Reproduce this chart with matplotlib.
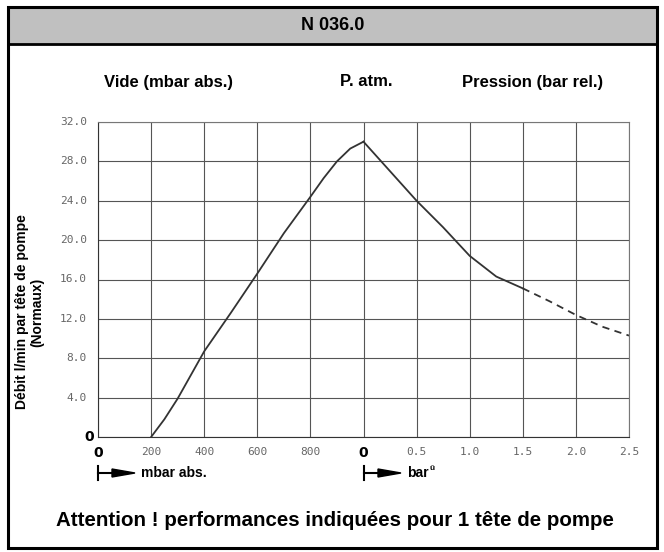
import matplotlib.pyplot as plt
from matplotlib.patches import Rectangle

# data
vac_mbar = [200, 250, 300, 350, 400, 500, 600, 700, 800, 850, 900, 950, 1000]
vac_flow = [0, 1.8, 3.9, 6.3, 8.7, 12.6, 16.6, 20.7, 24.4, 26.3, 28.0, 29.3, 30.0]
press_bar = [0, 0.25, 0.5, 0.75, 1.0, 1.25, 1.5]
press_flow = [30.0, 27.0, 24.0, 21.3, 18.4, 16.3, 15.1]
dash_bar = [1.5, 1.75, 2.0, 2.25, 2.5]
dash_flow = [15.1, 13.8, 12.4, 11.2, 10.3]
y_ticks = [0, 4, 8, 12, 16, 20, 24, 28, 32]
y_labels = ["0", "4.0", "8.0", "12.0", "16.0", "20.0", "24.0", "28.0", "32.0"]
x_labels = ["0", "200", "400", "600", "800", "0", "0.5", "1.0", "1.5", "2.0", "2.5"]

W, H = 664, 552
SANS = ["Liberation Sans", "DejaVu Sans"]


def px(x, y):
    return x / W, 1 - y / H


def bar_pos(b):
    # pressure side of the shared x axis starts at 1000 mbar
    return [1000 + v * 400 for v in b]


fig = plt.figure(figsize=(W / 100, H / 100), dpi=100)

# frame and title band
fig.patches.append(Rectangle(px(8, 44), 649 / W, 37 / H, transform=fig.transFigure,
                             facecolor="#c0c0c0", edgecolor="none", zorder=0))
fig.patches.append(Rectangle(px(8, 548), 649 / W, 541 / H, transform=fig.transFigure,
                             facecolor="none", edgecolor="black", lw=2.2, zorder=5))
fig.lines.append(plt.Line2D([8 / W, 657 / W], [1 - 44 / H] * 2, transform=fig.transFigure,
                            color="black", lw=2))

fig.text(*px(333, 25), "N 036.0", ha="center", va="center", fontsize=13,
         fontweight="bold", family=SANS)
fig.text(*px(168, 82), "Vide (mbar abs.)", ha="center", va="center", fontsize=12,
         fontweight="bold", family=SANS)
fig.text(*px(366, 82), "P. atm.", ha="center", va="center", fontsize=12,
         fontweight="bold", family=SANS)
fig.text(*px(533, 82), "Pression (bar rel.)", ha="center", va="center", fontsize=12,
         fontweight="bold", family=SANS)
fig.text(*px(335, 521), "Attention ! performances indiquées pour 1 tête de pompe",
         ha="center", va="center", fontsize=14.8, fontweight="bold", family=SANS)
fig.text(*px(22, 312), "Débit l/min par tête de pompe", ha="center", va="center",
         rotation=90, fontsize=10, fontweight="bold", family=SANS)
fig.text(*px(37, 312), "(Normaux)", ha="center", va="center",
         rotation=90, fontsize=10, fontweight="bold", family=SANS)

ax = fig.add_axes([98 / W, 1 - 437 / H, 531 / W, 315 / H])
ax.set_xlim(0, 2000)
ax.set_ylim(0, 32)
ax.set_xticks(range(0, 2001, 200))
ax.set_yticks(y_ticks)
ax.grid(True, color="#555555", lw=0.8)
ax.set_axisbelow(True)
for s in ax.spines.values():
    s.set_color("#777777")
    s.set_linewidth(0.8)
ax.spines["left"].set_color("#333333")
ax.spines["bottom"].set_color("#333333")
ax.tick_params(length=0)
ax.set_xticklabels([])
ax.set_yticklabels([])

# tick labels: bold zeros, grey mono for the rest
for v, lab in zip(y_ticks, y_labels):
    if lab == "0":
        ax.text(-14, v, lab, ha="right", va="center", fontsize=10, fontweight="bold",
                clip_on=False)
    else:
        ax.text(-42, v, lab, ha="right", va="center", fontsize=8, color="#666666",
                family="DejaVu Sans Mono", clip_on=False)
for i, lab in enumerate(x_labels):
    xv = i * 200
    if lab == "0":
        ax.text(xv, -1.6, lab, ha="center", va="center", fontsize=10, fontweight="bold",
                clip_on=False)
    else:
        ax.text(xv, -1.5, lab, ha="center", va="center", fontsize=8, color="#666666",
                family="DejaVu Sans Mono", clip_on=False)

ax.plot(vac_mbar, vac_flow, color="#333333", lw=1.3)
ax.plot(bar_pos(press_bar), press_flow, color="#333333", lw=1.3)
ax.plot(bar_pos(dash_bar), dash_flow, color="#333333", lw=1.3, ls=(0, (4, 3)))

# unit arrows under the x axis
for x0, lab in [(98, "mbar abs."), (364, "bar")]:
    fig.lines.append(plt.Line2D([x0 / W] * 2, [1 - 466 / H, 1 - 480 / H],
                                transform=fig.transFigure, color="black", lw=1.5))
    fig.lines.append(plt.Line2D([x0 / W, (x0 + 22) / W], [1 - 473 / H] * 2,
                                transform=fig.transFigure, color="black", lw=1.5))
    fig.patches.append(plt.Polygon([px(x0 + 14, 469), px(x0 + 37, 473), px(x0 + 14, 477)],
                                   closed=True, transform=fig.transFigure, color="black"))
    fig.text(*px(x0 + 43, 473), lab, ha="left", va="center", fontsize=10,
             fontweight="bold", family=SANS)
fig.text(*px(429, 468), "û", ha="left", va="center", fontsize=6, fontweight="bold",
         family=SANS)

fig.savefig("out.png", dpi=100)
